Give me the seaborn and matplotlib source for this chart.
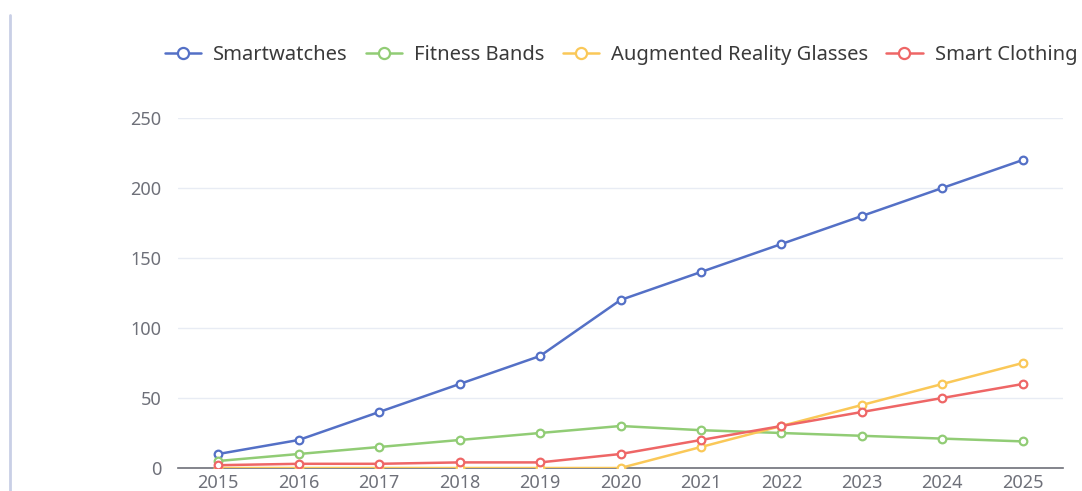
import matplotlib
matplotlib.use("Agg")
import matplotlib.pyplot as plt
import seaborn as sns
import pandas as pd
import numpy as np
from matplotlib.lines import Line2D

years = ["2015", "2016", "2017", "2018", "2019", "2020", "2021", "2022", "2023", "2024", "2025"]
smartwatches = [10, 20, 40, 60, 80, 120, 140, 160, 180, 200, 220]
fitness_bands = [5, 10, 15, 20, 25, 30, 27, 25, 23, 21, 19]
ar_glasses = [0, 0, 0, 0, 0, 0, 15, 30, 45, 60, 75]
smart_clothing = [2, 3, 3, 4, 4, 10, 20, 30, 40, 50, 60]

series_names = ["Smartwatches", "Fitness Bands", "Augmented Reality Glasses", "Smart Clothing"]
series_values = [smartwatches, fitness_bands, ar_glasses, smart_clothing]
colors = ["#5470c6", "#91cc75", "#fac858", "#ee6666"]

sns.set_style("white")
plt.rcParams["font.family"] = ["Noto Sans", "DejaVu Sans"]

fig = plt.figure(figsize=(10.82, 4.91), dpi=100)
W, H = 1082, 491
ax = fig.add_axes([178 / W, 23 / H, (1063 - 178) / W, (468 - 118) / H])

pos = np.arange(len(years))
for name, vals, col in zip(series_names, series_values, colors):
    df = pd.DataFrame({"x": pos, "y": vals})
    sns.lineplot(data=df, x="x", y="y", ax=ax, color=col, lw=1.8, marker="o",
                 markersize=5.5, markerfacecolor="white", markeredgecolor=col,
                 markeredgewidth=1.6, label=name, legend=False, zorder=3)

ax.set_xlim(-0.5, len(years) - 0.5)
ax.set_ylim(0, 250)
ax.set_yticks([0, 50, 100, 150, 200, 250])
ax.yaxis.grid(True, color="#E8ECF4", lw=1)
ax.xaxis.grid(False)
for s in ["top", "right", "left"]:
    ax.spines[s].set_visible(False)
ax.spines["bottom"].set_color("#6E7079")
ax.spines["bottom"].set_linewidth(1.2)
ax.spines["bottom"].set_zorder(2)

ax.set_xticks(np.arange(-0.5, len(years), 1.0))
ax.set_xticklabels([])
ax.set_xticks(pos, minor=True)
ax.set_xticklabels(years, minor=True)
ax.tick_params(axis="x", which="major", length=5, width=1, color="#6E7079", direction="out")
ax.tick_params(axis="x", which="minor", length=0, pad=4, labelsize=13, labelcolor="#6E7079")
ax.tick_params(axis="y", length=0, pad=12, labelsize=13, labelcolor="#6E7079")
ax.set_xlabel("")
ax.set_ylabel("")

handles = [Line2D([0], [0], color=c, lw=1.8, marker="o", markersize=8,
                  markerfacecolor="white", markeredgecolor=c, markeredgewidth=1.6)
           for c in colors]
fig.legend(handles, series_names, loc="center", bbox_to_anchor=(0.574, 1 - 55 / H),
           ncol=4, frameon=False, fontsize=14.5, handlelength=1.8, handletextpad=0.6,
           columnspacing=0.9, labelcolor="#3a3a3a")

fig.add_artist(Line2D([10 / W, 10 / W], [0, 1 - 15 / H], color="#c9cfe6", lw=2))

fig.savefig("out.png", dpi=100)
